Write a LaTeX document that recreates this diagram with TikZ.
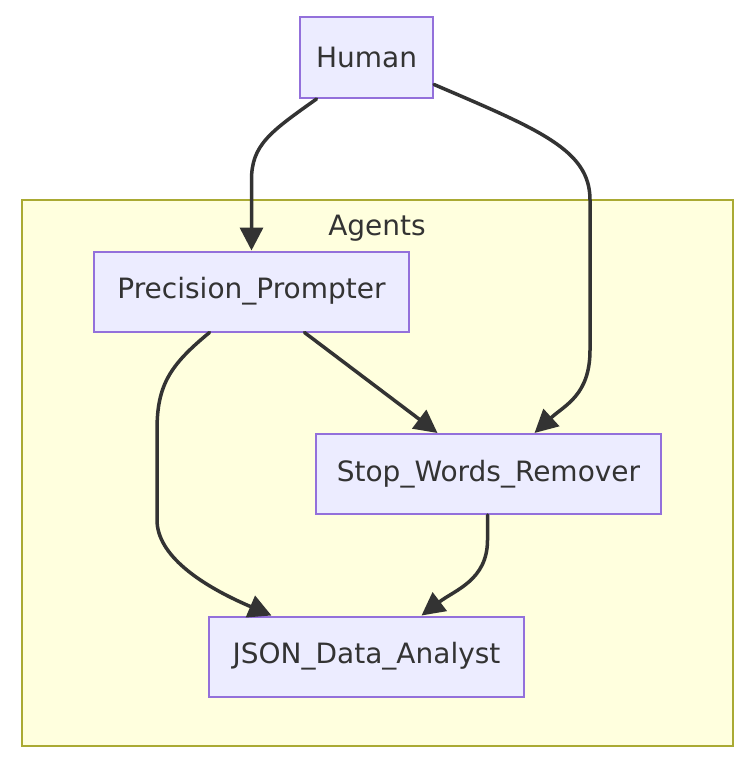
\documentclass[tikz,border=0pt]{standalone}
\usepackage{fontspec}
\setmainfont{DejaVu Sans}
\usepackage{tikz}
\usetikzlibrary{arrows.meta}
\usepackage{xcolor}
\definecolor{nodefill}{HTML}{ECECFF}
\definecolor{nodeline}{HTML}{9370DB}
\definecolor{groupfill}{HTML}{FFFFDE}
\definecolor{groupline}{HTML}{AAAA33}
\definecolor{inkgray}{HTML}{333333}

\begin{document}
\begin{tikzpicture}[x=1pt,y=-1pt,>={Triangle[length=23pt,width=23pt]},font=\fontsize{28}{34}\selectfont,line cap=round,
  agent/.style={draw=nodeline,fill=nodefill,line width=2pt,text=inkgray,minimum height=80pt,inner sep=0pt},
  link/.style={->,draw=inkgray,line width=3.5pt}]
\useasboundingbox (0,0) rectangle (754,762);
\draw[groupline,fill=groupfill,line width=2pt] (22,200) rectangle (733,746);
\node[text=inkgray] (agents) at (377,228) {Agents};
\node[agent,minimum width=133pt,minimum height=81pt] (human) at (366.5,57.5) {Human};
\node[agent,minimum width=315pt] (prompter) at (251.5,291.5) {Precision\_Prompter};
\node[agent,minimum width=345pt] (remover) at (488.5,474) {Stop\_Words\_Remover};
\node[agent,minimum width=315pt] (analyst) at (366.5,656.5) {JSON\_Data\_Analyst};
\draw[link] ([xshift=-50pt]human.south) .. controls (270,132) and (251.5,145) .. (251.5,180) -- (prompter.north);
\draw[link] ([yshift=-27pt]human.east) .. controls (540,130) and (590,150) .. (590,200) -- (590,350) .. controls (590,395) and (565,405) .. ([xshift=46pt]remover.north);
\draw[link] ([xshift=53pt]prompter.south) -- ([xshift=-51pt]remover.north);
\draw[link] ([xshift=-42pt]prompter.south) .. controls (170,365) and (157,385) .. (157,430) -- (157,520) .. controls (157,555) and (200,585) .. ([xshift=-95pt]analyst.north);
\draw[link] ([xshift=-1pt]remover.south) -- (487.5,540) .. controls (487.5,580) and (455,590) .. ([xshift=55pt]analyst.north);
\end{tikzpicture}
\end{document}
